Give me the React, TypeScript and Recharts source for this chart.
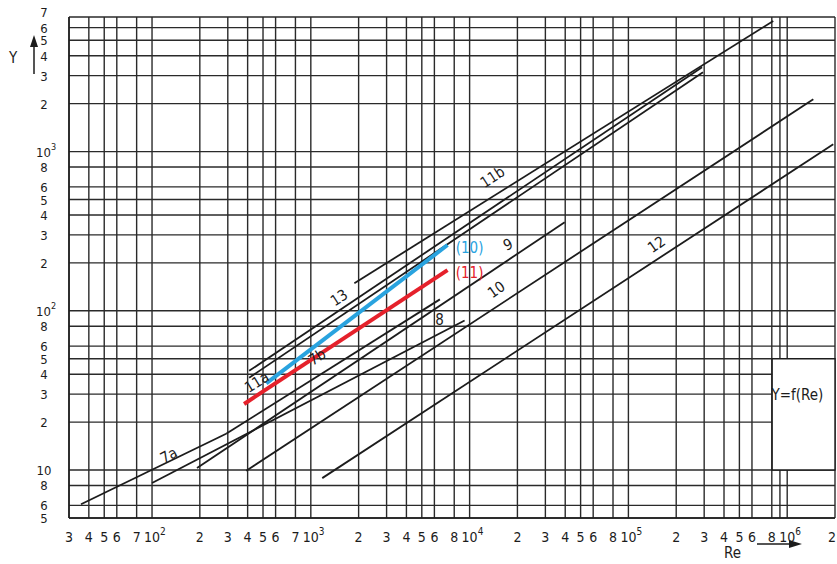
import React from "react";
import {
  LineChart,
  Line,
  XAxis,
  YAxis,
  CartesianGrid,
  ReferenceDot,
  ReferenceArea,
} from "recharts";

// Re axis (log): grid lines and the printed labels under them
const xTicks = [
  30, 40, 50, 60, 80, 100, 200, 300, 400, 500, 600, 800, 1000, 2000, 3000, 4000, 5000, 6000, 8000,
  1e4, 2e4, 3e4, 4e4, 5e4, 6e4, 8e4, 1e5, 2e5, 3e5, 4e5, 5e5, 6e5, 8e5, 9e5, 1e6, 2e6,
];
const xTickLabels = [
  "3", "4", "5", "6", "7", "10^2", "2", "3", "4", "5", "6", "7", "10^3", "2", "3", "4", "5", "6", "8",
  "10^4", "2", "3", "4", "5", "6", "8", "10^5", "2", "3", "4", "5", "6", "8", "", "10^6", "2",
];

// Y axis (log)
const yTicks = [
  5, 6, 8, 10, 20, 30, 40, 50, 60, 80, 100, 200, 300, 400, 500, 600, 800, 1000, 2000, 3000, 4000,
  5000, 6000, 7000,
];
const yTickLabels = [
  "5", "6", "8", "10", "2", "3", "4", "5", "6", "8", "10^2", "2", "3", "4", "5", "6", "8", "10^3",
  "2", "3", "4", "5", "6", "7",
];

// correlation lines, [Re, Y] pairs
const line7a = [[35.7, 6.1], [293, 16.9]];
const line7b = [[293, 16.9], [6500, 118]];
const line8 = [[100, 8.3], [9300, 87]];
const line9 = [[192, 10.3], [39700, 360]];
const line10 = [[392, 9.9], [1.46e6, 2130]];
const line12 = [[1180, 8.9], [1.95e6, 1110]];
const line11a = [[409, 38], [2.95e5, 3150]];
const line13 = [[409, 42], [2.91e5, 3390]];
const line11b = [[1880, 149], [8.17e5, 6610]];
// the two highlighted lines
const series10 = [[524, 35], [7260, 259]];
const series11 = [[380, 26], [7260, 180]];

const blackLines = [line7a, line7b, line8, line9, line10, line12, line11a, line13, line11b];

const annotations = [
  { text: "7a", x: 128, y: 12.3, angle: -28 },
  { text: "11a", x: 459, y: 35.4, angle: -32 },
  { text: "7b", x: 1100, y: 50.9, angle: -32 },
  { text: "13", x: 1514, y: 120, angle: -33 },
  { text: "11b", x: 1.4e4, y: 686, angle: -33 },
  { text: "8", x: 6470, y: 87, angle: 0 },
  { text: "9", x: 1.75e4, y: 259, angle: -25 },
  { text: "10", x: 1.48e4, y: 135, angle: -35 },
  { text: "12", x: 1.51e5, y: 259, angle: -35 },
];

const BLUE = "#29a3df";
const RED = "#e5212b";
const INK = "#1c1c1c";
const FONT = "'DejaVu Sans Condensed', 'Liberation Sans Narrow', 'DejaVu Sans', sans-serif";

const toPoints = (pairs: number[][]) => pairs.map(([x, y]) => ({ x, y }));

function PowerText({ x, y, label, size }: { x: number; y: number; label: string; size: number }) {
  if (!label) return null;
  const [base, sup] = label.split("^");
  if (!sup) {
    const atEdge = x > 826;
    return (
      <text
        x={atEdge ? x + 1 : x}
        y={y}
        textAnchor={atEdge ? "end" : "middle"}
        fontSize={size}
        fill={INK}
        fontFamily={FONT}
      >
        {base}
      </text>
    );
  }
  return (
    <text x={x - 8} y={y} textAnchor="start" fontSize={size} fill={INK} fontFamily={FONT}>
      {base}
      <tspan fontSize={size - 4} dy={-7}>
        {sup}
      </tspan>
    </text>
  );
}

function XTick(props: any) {
  const { x, payload } = props;
  const i = xTicks.indexOf(payload.value);
  return <PowerText x={x} y={542} label={xTickLabels[i] ?? ""} size={14} />;
}

function YTick(props: any) {
  const { y, payload } = props;
  const i = yTicks.indexOf(payload.value);
  // the top label sits just above the frame, as on the printed sheet
  const lift = i === yTicks.length - 1 ? 5 : 0;
  return <PowerText x={44} y={y + 5 - lift} label={yTickLabels[i] ?? ""} size={13} />;
}

function Annotation({ cx, cy, text, angle, color }: any) {
  return (
    <text
      x={cx}
      y={cy}
      textAnchor="middle"
      dominantBaseline="middle"
      fontSize={15}
      fill={color}
      fontFamily={FONT}
      transform={`rotate(${angle} ${cx} ${cy})`}
    >
      {text}
    </text>
  );
}

function ReLabel() {
  return (
    <g>
      <text x={724} y={558} fontSize={15} fill={INK} fontFamily={FONT}>
        Re
      </text>
      <line x1={757} y1={544} x2={792} y2={544} stroke={INK} strokeWidth={1.5} />
      <polygon points="802,544 789,540 789,548" fill={INK} />
    </g>
  );
}

function YLabel() {
  return (
    <g>
      <text x={9} y={63} fontSize={15} fill={INK} fontFamily={FONT}>
        Y
      </text>
      <line x1={34} y1={74} x2={34} y2={44} stroke={INK} strokeWidth={1.5} />
      <polygon points="34,35 30,47 38,47" fill={INK} />
    </g>
  );
}

export default function App() {
  return (
    <div style={{ position: "absolute", left: 0, top: 0, background: "#fff" }}>
      <LineChart
        width={837}
        height={564}
        margin={{ top: 17, right: 2, bottom: 0, left: 0 }}
        style={{ fontFamily: FONT }}
      >
        <CartesianGrid stroke="#2a2a2a" strokeWidth={1.4} fill="none" />
        <XAxis
          type="number"
          dataKey="x"
          scale="log"
          domain={[30, 2e6]}
          ticks={xTicks}
          interval={0}
          allowDataOverflow
          height={46}
          tickLine={false}
          axisLine={{ stroke: INK, strokeWidth: 1.5 }}
          tick={<XTick />}
          label={<ReLabel />}
        />
        <YAxis
          type="number"
          dataKey="y"
          scale="log"
          domain={[5, 7000]}
          ticks={yTicks}
          interval={0}
          allowDataOverflow
          width={69}
          tickLine={false}
          axisLine={{ stroke: INK, strokeWidth: 1.5 }}
          tick={<YTick />}
          label={<YLabel />}
        />
        <ReferenceArea
          x1={8.04e5}
          x2={2e6}
          y1={10}
          y2={50}
          fill="#fff"
          fillOpacity={1}
          stroke={INK}
          strokeWidth={1.4}
          ifOverflow="visible"
        />
        {blackLines.map((pairs, i) => (
          <Line
            key={i}
            data={toPoints(pairs)}
            dataKey="y"
            type="linear"
            stroke={INK}
            strokeWidth={1.8}
            dot={false}
            activeDot={false}
            isAnimationActive={false}
          />
        ))}
        <Line
          data={toPoints(series10)}
          dataKey="y"
          type="linear"
          stroke={BLUE}
          strokeWidth={4}
          dot={false}
          activeDot={false}
          isAnimationActive={false}
        />
        <Line
          data={toPoints(series11)}
          dataKey="y"
          type="linear"
          stroke={RED}
          strokeWidth={4}
          dot={false}
          activeDot={false}
          isAnimationActive={false}
        />
        {annotations.map((a) => (
          <ReferenceDot
            key={a.text}
            x={a.x}
            y={a.y}
            r={1}
            ifOverflow="visible"
            shape={(p: any) => <Annotation {...p} text={a.text} angle={a.angle} color={INK} />}
          />
        ))}
        <ReferenceDot
          x={1.0e4}
          y={248}
          r={1}
          shape={(p: any) => <Annotation {...p} text="(10)" angle={0} color={BLUE} />}
        />
        <ReferenceDot
          x={1.0e4}
          y={172}
          r={1}
          shape={(p: any) => <Annotation {...p} text="(11)" angle={0} color={RED} />}
        />
        <ReferenceDot
          x={1.16e6}
          y={29.3}
          r={1}
          shape={(p: any) => <Annotation {...p} text="Y=f(Re)" angle={0} color={INK} />}
        />
      </LineChart>
    </div>
  );
}
